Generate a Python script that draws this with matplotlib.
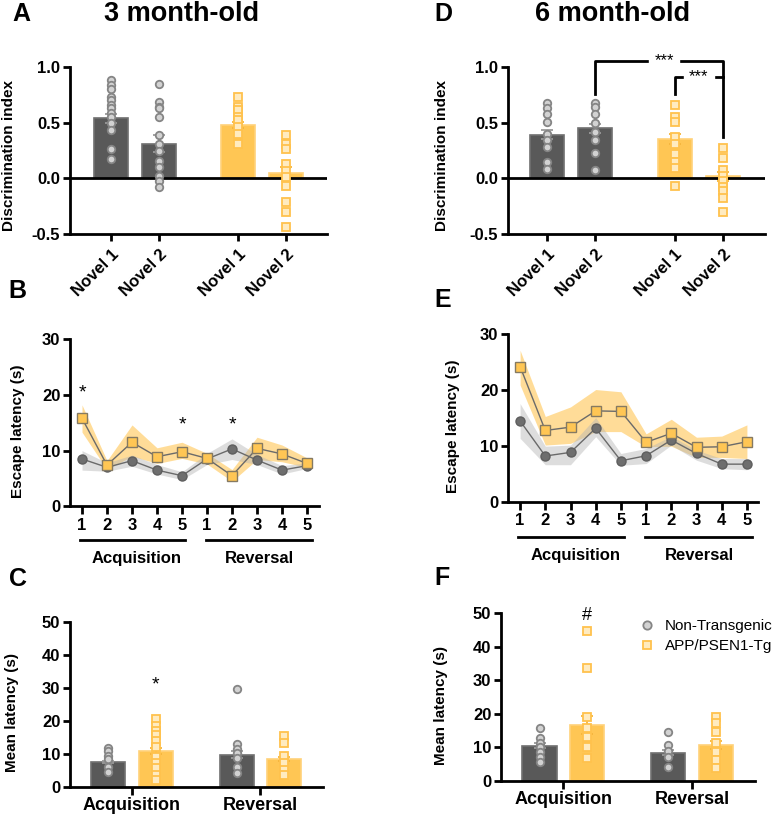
import matplotlib
matplotlib.use('Agg')
import matplotlib.pyplot as plt
from matplotlib.lines import Line2D
import numpy as np

plt.rcParams['font.family'] = ['Liberation Sans', 'DejaVu Sans']
plt.rcParams['font.weight'] = 'bold'

# ---------------- data ----------------
novel_labels = ['Novel 1', 'Novel 2', 'Novel 1', 'Novel 2']

# A: 3 month-old discrimination index (NT N1, NT N2, Tg N1, Tg N2)
a_means = [0.54, 0.31, 0.48, 0.05]
a_sem = [0.04, 0.075, 0.025, 0.05]
a_nt_n1 = [0.88, 0.84, 0.80, 0.73, 0.70, 0.66, 0.63, 0.59, 0.55, 0.50, 0.43, 0.26, 0.17]
a_nt_n2 = [0.85, 0.69, 0.64, 0.63, 0.55, 0.39, 0.31, 0.25, 0.16, 0.10, 0.02, -0.02, -0.08]
a_tg_n1 = [0.73, 0.64, 0.61, 0.55, 0.52, 0.46, 0.40, 0.31]
a_tg_n2 = [0.39, 0.31, 0.26, 0.13, 0.07, 0.01, -0.07, -0.21, -0.30, -0.44]

# D: 6 month-old discrimination index
d_means = [0.39, 0.45, 0.35, 0.02]
d_sem = [0.04, 0.04, 0.045, 0.04]
d_nt_n1 = [0.68, 0.63, 0.58, 0.51, 0.40, 0.34, 0.28, 0.15, 0.08]
d_nt_n2 = [0.68, 0.64, 0.58, 0.50, 0.42, 0.34, 0.23, 0.075]
d_tg_n1 = [0.66, 0.55, 0.51, 0.37, 0.31, 0.22, 0.15, 0.09, -0.07]
d_tg_n2 = [0.27, 0.18, 0.075, 0.02, -0.02, -0.075, -0.11, -0.18, -0.30]

# B / E: escape latency per day
days = [1, 2, 3, 4, 5, 6, 7, 8, 9, 10]
day_labels = ['1', '2', '3', '4', '5', '1', '2', '3', '4', '5']

b_nt = [8.5, 7.0, 8.2, 6.5, 5.5, 8.5, 10.3, 8.3, 6.5, 7.3]
b_nt_lo = [6.5, 6.3, 7.2, 5.8, 4.8, 7.5, 8.4, 7.5, 5.8, 6.8]
b_nt_hi = [10.0, 7.8, 9.2, 7.5, 6.2, 9.5, 12.1, 9.3, 7.3, 7.8]
b_tg = [15.8, 7.4, 11.5, 8.9, 9.8, 8.6, 5.5, 10.4, 9.4, 7.7]
b_tg_lo = [13.3, 6.6, 9.0, 7.7, 8.6, 7.6, 4.5, 8.4, 8.0, 7.0]
b_tg_hi = [18.2, 8.2, 14.6, 10.5, 11.5, 9.5, 6.6, 12.4, 11.0, 8.7]

e_nt = [14.5, 8.25, 8.9, 13.2, 7.4, 8.3, 11.1, 8.7, 6.8, 6.8]
e_nt_lo = [11.4, 6.7, 6.7, 11.7, 6.6, 6.9, 10.2, 7.5, 6.0, 5.8]
e_nt_hi = [17.6, 10.0, 10.2, 15.1, 8.7, 9.6, 11.8, 9.3, 7.8, 7.8]
e_tg = [24.2, 12.8, 13.4, 16.3, 16.2, 10.7, 12.3, 9.8, 9.9, 10.8]
e_tg_lo = [20.9, 10.2, 10.5, 12.6, 12.6, 9.9, 10.0, 8.0, 8.0, 7.8]
e_tg_hi = [27.1, 15.3, 17.0, 20.1, 19.7, 12.2, 14.8, 11.6, 11.8, 13.8]

# C / F: mean latency
phases = ['Acquisition', 'Reversal']
c_nt_mean = [7.6, 9.8]
c_nt_sem = [0.4, 1.1]
c_tg_mean = [11.0, 8.5]
c_tg_sem = [1.0, 0.6]
c_nt_acq = [11.8, 11.1, 9.3, 8.5, 6.1, 4.5]
c_tg_acq = [20.5, 18.5, 17.1, 15.8, 14.0, 12.3, 9.2, 7.2, 5.7, 3.7, 2.2]
c_nt_rev = [29.7, 13.1, 11.5, 10.3, 8.8, 6.2, 4.2]
c_tg_rev = [15.5, 13.5, 9.5, 7.2, 5.2, 3.7]

f_nt_mean = [10.5, 8.45]
f_nt_sem = [0.7, 0.75]
f_tg_mean = [16.7, 10.7]
f_tg_sem = [2.7, 1.2]
f_nt_acq = [15.7, 12.7, 11.2, 10.2, 8.7, 7.2, 5.8]
f_tg_acq = [44.7, 33.6, 19.0, 15.7, 13.2, 10.2, 6.8]
f_nt_rev = [14.7, 10.7, 9.0, 7.2, 4.1]
f_tg_rev = [19.2, 17.2, 14.7, 11.2, 8.7, 6.3, 3.8]

# ---------------- styles ----------------
NT_BAR = '#595959'
NT_EDGE = '#707070'
TG_BAR = '#FFC654'
TG_EDGE = '#FFD27A'
NT_PT_FACE = '#d2d2d2'
NT_PT_EDGE = '#858585'
TG_PT_FACE = '#FFEBC0'
TG_PT_EDGE = '#FFC24D'

W, H = 778, 814
fig = plt.figure(figsize=(W / 100, H / 100), dpi=100)

TICK_FS = 12
LAB_FS = 11


def ax_px(l, t, r, b):
    return fig.add_axes([l / W, 1 - b / H, (r - l) / W, (b - t) / H])


def style(ax):
    for s in ['top', 'right']:
        ax.spines[s].set_visible(False)
    for s in ['left', 'bottom']:
        ax.spines[s].set_linewidth(2)
    ax.tick_params(width=2, length=5, labelsize=TICK_FS, pad=2)
    for lab in ax.get_xticklabels() + ax.get_yticklabels():
        lab.set_fontweight('bold')


def pts(ax, x, vals, kind):
    if kind == 'nt':
        ax.plot([x] * len(vals), vals, 'o', ms=5.4, mfc=NT_PT_FACE, mec=NT_PT_EDGE, mew=1.3, zorder=4, clip_on=False)
    else:
        ax.plot([x] * len(vals), vals, 's', ms=5.2, mfc=TG_PT_FACE, mec=TG_PT_EDGE, mew=1.3, zorder=4, clip_on=False)


def disc_panel(ax, pos, means, sems, groups):
    cols = [NT_BAR, NT_BAR, TG_BAR, TG_BAR]
    edges = [NT_EDGE, NT_EDGE, TG_EDGE, TG_EDGE]
    ecols = ['#9a9a9a', '#9a9a9a', '#F5B53C', '#F5B53C']
    ax.bar(pos, means, width=0.7, color=cols, edgecolor=edges, linewidth=1.2, zorder=2)
    for p, m, s, ec in zip(pos, means, sems, ecols):
        ax.errorbar([p], [m], yerr=[s], fmt='none', ecolor=ec, elinewidth=1.3, capsize=4, capthick=1.3, zorder=3)
    kinds = ['nt', 'nt', 'tg', 'tg']
    for p, g, k in zip(pos, groups, kinds):
        pts(ax, p, g, k)
    ax.axhline(0, color='black', lw=2, zorder=3)
    ax.set_ylim(-0.5, 1.0)
    ax.set_yticks([-0.5, 0, 0.5, 1.0])
    ax.set_yticklabels(['-0.5', '0.0', '0.5', '1.0'])
    ax.set_xticks(pos)
    ax.set_xticklabels(novel_labels, rotation=45, ha='right', rotation_mode='anchor')
    ax.set_ylabel('Discrimination index', fontsize=LAB_FS, fontweight='bold')
    style(ax)
    ax.tick_params(axis='x', pad=4)


# ---------------- Panel A ----------------
posA = [0, 1, 2.65, 3.65]
axA = ax_px(70, 67, 327, 234)
disc_panel(axA, posA, a_means, a_sem, [a_nt_n1, a_nt_n2, a_tg_n1, a_tg_n2])
axA.set_xlim(-0.854, 4.5)
axA.yaxis.set_label_coords(-0.21, 0.47)

# ---------------- Panel D ----------------
posD = [0, 1, 2.63, 3.63]
axD = ax_px(508, 67, 765, 234)
disc_panel(axD, posD, d_means, d_sem, [d_nt_n1, d_nt_n2, d_tg_n1, d_tg_n2])
axD.set_xlim(-0.80, 4.49)
axD.yaxis.set_label_coords(-0.23, 0.47)
# significance brackets
axD.plot([posD[1], posD[1], posD[3], posD[3]], [0.757, 1.055, 1.055, 0.37], color='black', lw=2, clip_on=False, zorder=5)
axD.plot([posD[2], posD[2], posD[3]], [0.757, 0.91, 0.91], color='black', lw=2, clip_on=False, zorder=5)
axD.text((posD[1] + posD[3]) / 2 + 0.1, 1.055, '***', ha='center', va='center', fontsize=12, fontweight='normal',
         backgroundcolor='white', zorder=6, clip_on=False)
axD.text((posD[2] + posD[3]) / 2, 0.91, '***', ha='center', va='center', fontsize=12, fontweight='normal',
         backgroundcolor='white', zorder=6, clip_on=False)


# ---------------- line panels ----------------
def line_panel(ax, nt, nt_lo, nt_hi, tg, tg_lo, tg_hi):
    ax.fill_between(days, tg_lo, tg_hi, color='#FFC654', alpha=0.6, lw=0, zorder=1)
    ax.fill_between(days, nt_lo, nt_hi, color='#b5b5b5', alpha=0.45, lw=0, zorder=2)
    ax.plot(days, nt, '-o', color='#6a6a6a', lw=1.0, ms=6.5, mfc='#6e6e6e', mec='#5e5e5e', zorder=3)
    ax.plot(days, tg, '-s', color='#6a6a6a', lw=1.0, ms=6.5, mfc='#FFC654', mec='#857a62', mew=1.0, zorder=4)
    ax.set_ylim(0, 30)
    ax.set_yticks([0, 10, 20, 30])
    ax.set_xticks(days)
    ax.set_xticklabels(day_labels)
    ax.set_ylabel('Escape latency (s)', fontsize=LAB_FS, fontweight='bold')
    style(ax)
    ax.tick_params(axis='x', length=6, pad=2)
    ax.plot([0.92, 5.12], [-6.1, -6.1], color='black', lw=2, clip_on=False)
    ax.plot([5.96, 10.2], [-6.1, -6.1], color='black', lw=2, clip_on=False)
    ax.text(3.2, -9.4, phases[0], ha='center', va='center', fontsize=12, fontweight='bold', clip_on=False)
    ax.text(8.1, -9.4, phases[1], ha='center', va='center', fontsize=12, fontweight='bold', clip_on=False)


axB = ax_px(70, 339, 319, 506.4)
line_panel(axB, b_nt, b_nt_lo, b_nt_hi, b_tg, b_tg_lo, b_tg_hi)
axB.set_xlim(0.52, 10.48)
axB.yaxis.set_label_coords(-0.18, 0.45)
for xs, ys in [(1, 20.3), (5, 14.6), (7, 14.6)]:
    axB.text(xs, ys, '*', ha='center', va='center', fontsize=14, fontweight='normal')

axE = ax_px(508, 334, 758, 502.3)
line_panel(axE, e_nt, e_nt_lo, e_nt_hi, e_tg, e_tg_lo, e_tg_hi)
axE.set_xlim(0.52, 10.44)
axE.yaxis.set_label_coords(-0.19, 0.45)


# ---------------- mean latency panels ----------------
def mean_panel(ax, nt_mean, nt_sem, tg_mean, tg_sem, nt_pts, tg_pts):
    xg = np.arange(len(phases))
    off = 0.184
    bw = 0.266
    ax.bar(xg - off, nt_mean, width=bw, color=NT_BAR, edgecolor=NT_EDGE, linewidth=1.2, zorder=2)
    ax.bar(xg + off, tg_mean, width=bw, color=TG_BAR, edgecolor=TG_EDGE, linewidth=1.2, zorder=2)
    ax.errorbar(xg - off, nt_mean, yerr=nt_sem, fmt='none', ecolor='#9a9a9a', elinewidth=1.3, capsize=4, capthick=1.3, zorder=3)
    ax.errorbar(xg + off, tg_mean, yerr=tg_sem, fmt='none', ecolor='#F5B53C', elinewidth=1.3, capsize=4, capthick=1.3, zorder=3)
    for i in range(len(phases)):
        pts(ax, xg[i] - off, nt_pts[i], 'nt')
        pts(ax, xg[i] + off, tg_pts[i], 'tg')
    ax.set_ylim(0, 50)
    ax.set_yticks([0, 10, 20, 30, 40, 50])
    ax.set_xticks(xg)
    ax.set_xticklabels(phases)
    ax.set_xlim(-0.484, 1.49)
    ax.set_ylabel('Mean latency (s)', fontsize=LAB_FS, fontweight='bold')
    style(ax)
    ax.tick_params(axis='x', length=6, pad=1, labelsize=13)


axC = ax_px(70, 621.7, 323, 787.3)
mean_panel(axC, c_nt_mean, c_nt_sem, c_tg_mean, c_tg_sem, [c_nt_acq, c_nt_rev], [c_tg_acq, c_tg_rev])
axC.yaxis.set_label_coords(-0.2, 0.45)
axC.text(0.184, 31, '*', ha='center', va='center', fontsize=14, fontweight='normal')

axF = ax_px(501, 613.3, 755, 781)
mean_panel(axF, f_nt_mean, f_nt_sem, f_tg_mean, f_tg_sem, [f_nt_acq, f_nt_rev], [f_tg_acq, f_tg_rev])
axF.yaxis.set_label_coords(-0.21, 0.45)
axF.text(0.184, 49.3, '#', ha='center', va='center', fontsize=13, fontweight='normal')

handles = [Line2D([], [], marker='o', ls='none', ms=6, mfc=NT_PT_FACE, mec=NT_PT_EDGE, mew=1.3),
           Line2D([], [], marker='s', ls='none', ms=6, mfc=TG_PT_FACE, mec=TG_PT_EDGE, mew=1.3)]
fig.legend(handles, ['Non-Transgenic', 'APP/PSEN1-Tg'], loc='upper left',
           bbox_to_anchor=(639 / W, 1 - 619 / H), frameon=False, borderaxespad=0, borderpad=0,
           handlelength=1.0, handletextpad=0.7, labelspacing=0.4,
           prop={'family': 'Liberation Sans', 'weight': 'normal', 'size': 11})

# ---------------- titles & panel letters ----------------
fig.text(12 / W, 1 - 14 / H, 'A', fontsize=18, fontweight='bold', va='center', ha='left')
fig.text(182 / W, 1 - 14 / H, '3 month-old', fontsize=19.5, fontweight='bold', va='center', ha='center')
fig.text(434 / W, 1 - 14 / H, 'D', fontsize=18, fontweight='bold', va='center', ha='left')
fig.text(613 / W, 1 - 14 / H, '6 month-old', fontsize=19.5, fontweight='bold', va='center', ha='center')
fig.text(8 / W, 1 - 291 / H, 'B', fontsize=18, fontweight='bold', va='center', ha='left')
fig.text(434 / W, 1 - 300 / H, 'E', fontsize=18, fontweight='bold', va='center', ha='left')
fig.text(9 / W, 1 - 579 / H, 'C', fontsize=18, fontweight='bold', va='center', ha='left')
fig.text(434 / W, 1 - 578 / H, 'F', fontsize=18, fontweight='bold', va='center', ha='left')

fig.savefig('out.png', dpi=100)
